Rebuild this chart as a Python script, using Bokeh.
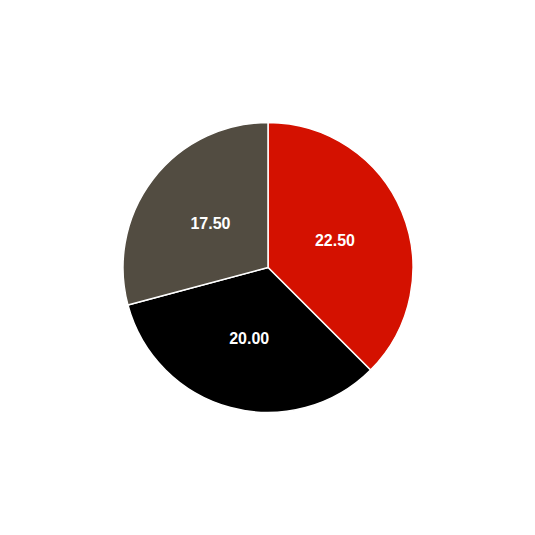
import math
from bokeh.plotting import figure
from bokeh.models import ColumnDataSource
from bokeh.core.properties import value
from bokeh.embed import file_html
from bokeh.resources import INLINE

labels = ["22.50", "20.00", "17.50"]
values = [22.5, 20.0, 17.5]
colors = ["#d41100", "#000000", "#524c41"]

W = 519
R = 145.0
cx, cy = 8.0, -7.5

total = sum(values)
starts, ends, lx, ly = [], [], [], []
acc = 0.0
for v in values:
    a0 = math.pi / 2 - 2 * math.pi * acc / total
    a1 = math.pi / 2 - 2 * math.pi * (acc + v) / total
    starts.append(a0)
    ends.append(a1)
    mid = (a0 + a1) / 2
    lx.append(cx + 0.5 * R * math.cos(mid))
    ly.append(cy + 0.5 * R * math.sin(mid))
    acc += v

src = ColumnDataSource(dict(start=starts, end=ends, color=colors,
                            lx=lx, ly=ly, label=labels))

p = figure(width=W, height=W, output_backend="svg", toolbar_location=None,
           x_range=(-W / 2, W / 2), y_range=(-W / 2, W / 2),
           x_axis_location=None, y_axis_location=None, min_border=0)
p.grid.visible = False
p.outline_line_color = None
p.background_fill_color = "white"
p.border_fill_color = "white"

p.wedge(x=cx, y=cy, radius=R, start_angle="start", end_angle="end",
        direction="clock", fill_color="color", line_color="white",
        line_width=1.5, source=src)
p.text(x="lx", y="ly", text="label", source=src, text_color="white",
       text_font=value("Liberation Sans"), text_font_size="16px",
       text_font_style="bold",
       text_align="center", text_baseline="middle")

open("out.html", "w").write(file_html(p, INLINE))
